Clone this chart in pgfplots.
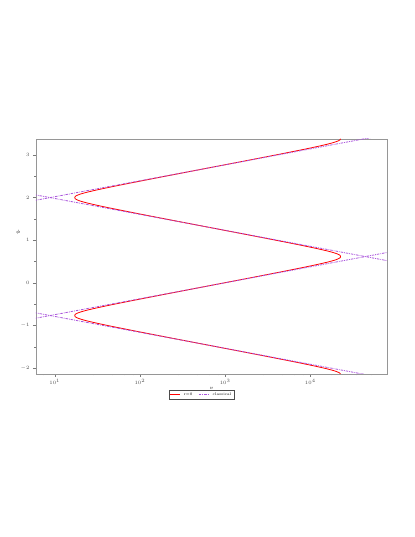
\documentclass[border=0pt]{standalone}
\usepackage{pgfplots}
\pgfplotsset{compat=1.18}
\definecolor{classic}{RGB}{170,85,220}
\definecolor{frame}{RGB}{150,150,150}
\begin{document}
\begin{tikzpicture}
\path[use as bounding box] (0,0) rectangle (415bp,537bp);
\begin{axis}[
    at={(36bp,163bp)}, anchor=south west,
    scale only axis, width=351bp, height=235bp,
    xmin=0.78, xmax=4.90, ymin=-2.14, ymax=3.375,
    xtick={1,2,3,4},
    xticklabels={$10^{1}$,$10^{2}$,$10^{3}$,$10^{4}$},
    minor xtick={0.86,1.45,1.67,1.81,1.92,2.45,2.67,2.81,2.92,3.45,3.67,3.81,3.92,4.25,4.54,4.72},
    ytick={-2,-1,0,1,2,3},
    minor ytick={-1.5,-0.5,0.5,1.5,2.5},
    tick pos=left, tick align=outside,
    major tick length=3bp, minor tick length=1.5bp,
    tick style={frame!80!black, line width=0.4pt},
    axis line style={frame, line width=0.8pt},
    tick label style={font=\fontsize{4}{5}\selectfont, text=black!70},
    xticklabel style={yshift=1bp},
    xlabel={$v$}, ylabel={$\phi$},
    label style={font=\fontsize{4.5}{5}\selectfont},
    xlabel style={at={(0.5,-0.063)}, anchor=center},
    ylabel style={at={(-0.051,0.603)}, anchor=center, rotate=-90},
    legend columns=2,
    legend style={at={(0.471,-0.089)}, anchor=center,
        font=\fontsize{3.8}{4.5}\selectfont, draw=black!70, line width=0.4pt,
        inner sep=0.5pt, column sep=1.5bp,
        /tikz/every even column/.append style={column sep=4bp}},
    legend image code/.code={\draw[#1, line width=0.9pt] (0bp,0bp) -- (10bp,0bp);},
]
\addplot[red, line width=0.8pt, smooth, tension=0.3] coordinates {
 (4.355,3.3794) (4.350,3.3592) (4.345,3.3507) (4.335,3.3384) (4.315,3.3204)
 (4.285,3.2995) (4.245,3.2762) (4.195,3.2505) (4.125,3.2177) (4.025,3.1739)
 (3.895,3.1200) (3.695,3.0400) (3.395,2.9228) (3.095,2.8072) (2.795,2.692)
 (2.495,2.5768) (2.195,2.4612) (1.895,2.3440) (1.695,2.2640) (1.565,2.2101)
 (1.465,2.1663) (1.395,2.1335) (1.345,2.1078) (1.305,2.0845) (1.275,2.0636)
 (1.255,2.0456) (1.245,2.0333) (1.240,2.0248) (1.235,2.0046)
 (1.235,1.9954) (1.240,1.9752) (1.245,1.9667) (1.255,1.9544) (1.275,1.9364)
 (1.305,1.9155) (1.345,1.8922) (1.395,1.8665) (1.465,1.8337) (1.565,1.7899)
 (1.695,1.7360) (1.895,1.6560) (2.195,1.5388) (2.495,1.4232) (2.795,1.308)
 (3.095,1.1928) (3.395,1.0772) (3.695,0.9600) (3.895,0.8800) (4.025,0.8261)
 (4.125,0.7823) (4.195,0.7495) (4.245,0.7238) (4.285,0.7005) (4.315,0.6796)
 (4.335,0.6616) (4.345,0.6493) (4.350,0.6408) (4.355,0.6206)
 (4.355,0.6114) (4.350,0.5912) (4.345,0.5827) (4.335,0.5704) (4.315,0.5524)
 (4.285,0.5315) (4.245,0.5082) (4.195,0.4825) (4.125,0.4497) (4.025,0.4059)
 (3.895,0.3520) (3.695,0.2720) (3.395,0.1548) (3.095,0.0392) (2.795,-0.076)
 (2.495,-0.1912) (2.195,-0.3068) (1.895,-0.4240) (1.695,-0.5040) (1.565,-0.5579)
 (1.465,-0.6017) (1.395,-0.6345) (1.345,-0.6602) (1.305,-0.6835) (1.275,-0.7044)
 (1.255,-0.7224) (1.245,-0.7347) (1.240,-0.7432) (1.235,-0.7634)
 (1.235,-0.7726) (1.240,-0.7928) (1.245,-0.8013) (1.255,-0.8136) (1.275,-0.8316)
 (1.305,-0.8525) (1.345,-0.8758) (1.395,-0.9015) (1.465,-0.9343) (1.565,-0.9781)
 (1.695,-1.0320) (1.895,-1.1120) (2.195,-1.2292) (2.495,-1.3448) (2.795,-1.460)
 (3.095,-1.5752) (3.395,-1.6908) (3.695,-1.8080) (3.895,-1.8880) (4.025,-1.9419)
 (4.125,-1.9857) (4.195,-2.0185) (4.245,-2.0442) (4.285,-2.0675) (4.315,-2.0884)
 (4.335,-2.1064) (4.345,-2.1187) (4.350,-2.1272) (4.355,-2.1474)
};
\addlegendentry{r=0}
\addplot[classic, line width=0.8pt, dash pattern=on 2.5pt off 1pt on 0.8pt off 1pt] coordinates {
 (0.70,1.9084) (5.00,3.5168)
};
\addlegendentry{classical}
\addplot[classic, line width=0.8pt, dash pattern=on 2.5pt off 1pt on 0.8pt off 1pt, forget plot] coordinates {
 (0.70,2.0916) (5.00,0.4832)
};
\addplot[classic, line width=0.8pt, dash pattern=on 2.5pt off 1pt on 0.8pt off 1pt, forget plot] coordinates {
 (0.70,-0.8596) (5.00,0.7488)
};
\addplot[classic, line width=0.8pt, dash pattern=on 2.5pt off 1pt on 0.8pt off 1pt, forget plot] coordinates {
 (0.70,-0.6764) (5.00,-2.2848)
};
\end{axis}
\end{tikzpicture}
\end{document}
